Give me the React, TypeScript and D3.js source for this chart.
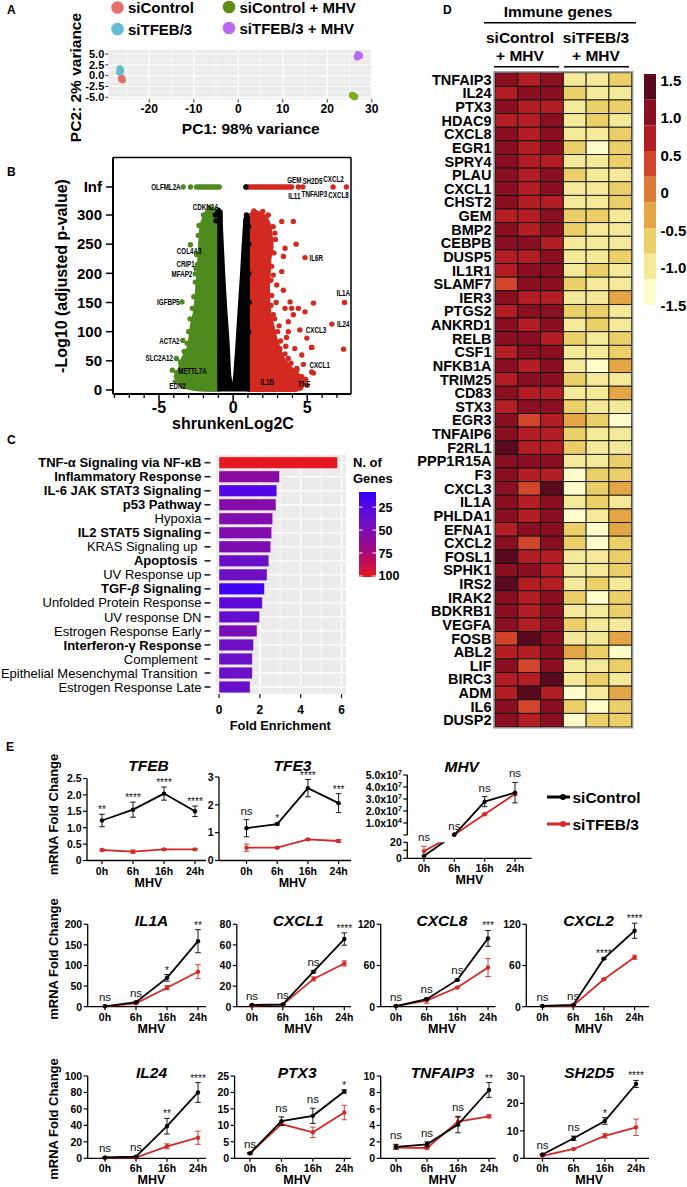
import React from 'react';
import * as d3 from 'd3';

const FF = "'Liberation Sans', Arial, Helvetica, sans-serif";
const RED = '#d42a27';

// ================= Panel A : PCA =================
const pcaGroups = ['siControl', 'siTFEB/3', 'siControl + MHV', 'siTFEB/3 + MHV'];
const pcaLegendColors = ['#e2716a', '#62bcd2', '#5e8c17', '#b86af5'];
const pcaPointColors = ['#e2716a', '#62bcd2', '#7cae1a', '#b86af5'];
const pcaGroupOf = [0, 0, 0, 1, 1, 1, 2, 2, 2, 3, 3, 3];
const pcaPC1 = [-26.2, -26.0, -26.3, -26.6, -26.4, -26.7, 25.6, 26.2, 25.9, 26.9, 27.3, 26.7];
const pcaPC2 = [-0.5, -1.0, -0.8, 1.6, 1.1, 0.8, -4.5, -4.9, -4.7, 4.9, 4.6, 4.3];
const pcaXTicks = [-20, -10, 0, 10, 20, 30];
const pcaXMinor = [-25, -15, -5, 5, 15, 25];
const pcaYTicks = [5, 2.5, 0, -2.5, -5];
const pcaYMinor = [3.75, 1.25, -1.25, -3.75];

// ================= Panel B : volcano =================
const volcYTicks = [0, 50, 100, 150, 200, 250, 300];
const volcXMajor = [-5, 0, 5];
const volcXMinor = [-8, -7, -6, -4, -3, -2, -1, 1, 2, 3, 4, 6, 7];
const volcGreenDense: [number, number][] = [
  [-0.97, 0], [-0.97, 300], [-1.1, 308], [-1.45, 311], [-1.75, 306], [-1.95, 295], [-2.14, 283], [-2.2, 262],
  [-2.25, 240], [-2.3, 215], [-2.35, 197], [-2.42, 175], [-2.5, 150], [-2.6, 130], [-2.78, 111], [-2.88, 90],
  [-3.0, 72], [-3.36, 54], [-3.6, 36], [-3.72, 24], [-3.6, 12], [-3.2, 5], [-2.6, 1.5], [-2.0, 0.5],
];
const volcBlackDense: [number, number][] = [
  [-0.97, 0], [-0.97, 300], [-1.12, 306], [-0.95, 310], [-0.8, 306], [-0.79, 283], [-0.71, 240], [-0.63, 197],
  [-0.5, 140], [-0.34, 83], [-0.23, 26], [-0.11, 7], [0, 1.5], [0.03, 7], [0.11, 26], [0.27, 83], [0.41, 140],
  [0.56, 197], [0.68, 250], [0.79, 294], [0.9, 298], [1.03, 296], [1.03, 0],
];
const volcRedDense: [number, number][] = [
  [1.03, 0], [1.03, 296], [1.25, 302], [1.55, 305], [1.9, 301], [2.2, 296], [2.45, 282], [2.55, 262], [2.6, 245],
  [2.45, 225], [2.4, 200], [2.35, 175], [2.38, 150], [2.45, 130], [2.65, 110], [2.85, 88], [3.1, 70], [3.35, 54],
  [3.7, 42], [4.1, 32], [4.45, 24], [4.7, 12], [4.6, 3], [4.2, 0],
];
const volcGreenPts: [number, number][] = [
  [-2.88, 249], [-2.41, 215], [-2.55, 199], [-3.45, 151], [-3.39, 85], [-3.83, 54], [-4.1, 34], [-3.72, 19], [-3.27, 11],
  [-2.03, 246], [-1.92, 220], [-2.25, 171], [-2.14, 129], [-2.48, 111], [-2.7, 97], [-2.25, 69], [-2.82, 49],
  [-3.49, 43], [-3.16, 31], [-2.7, 26], [-3.83, 23], [-2.3, 282], [-2.35, 265], [-2.45, 232], [-2.5, 208],
  [-2.55, 185], [-2.65, 160], [-2.75, 140], [-2.9, 122], [-3.0, 100], [-3.1, 80], [-3.3, 66], [-3.55, 48],
  [-3.8, 30], [-3.9, 14], [-3.4, 8], [-1.6, 312], [-2.0, 300], [-2.6, 120], [-2.95, 60], [-3.45, 38],
];
const volcRedPts: [number, number][] = [
  [1.81, 297], [2.37, 300], [3.28, 289], [4.06, 289], [2.82, 269], [4.25, 250], [3.5, 243], [3.39, 229], [4.85, 227],
  [3.28, 203], [2.71, 197], [2.94, 180], [5.42, 149], [3.95, 140], [3.5, 140], [4.4, 140], [4.85, 134], [4.06, 129],
  [2.71, 129], [3.72, 117], [6.66, 113], [7.51, 150], [7.45, 70], [3.72, 100], [4.97, 89], [5.31, 73], [2.71, 97],
  [4.74, 44], [5.42, 29], [5.3, 31], [4.63, 23], [4.29, 37], [3.39, 49], [3.72, 54], [4.63, 60], [3.16, 71],
  [3.39, 171], [3.84, 151], [4.5, 103], [4.16, 20], [5.28, 73], [4.16, 71], [3.55, 75], [2.7, 280], [2.85, 258],
  [2.75, 235], [2.6, 212], [2.55, 188], [2.6, 162], [2.55, 145], [2.8, 122], [3.0, 100], [3.2, 84], [3.5, 62],
  [3.9, 46], [4.3, 34], [4.9, 18], [5.0, 8], [2.0, 306], [1.4, 307], [2.9, 150], [3.1, 110], [3.6, 90],
];
const volcBlackPts: [number, number][] = [
  [-1.2, 300], [-1.15, 290], [0.9, 300], [0.95, 290], [1.05, 280], [1.06, 250], [1.05, 200], [1.08, 150], [1.05, 100],
];
const volcInfGreenSeg = [-2.47, -0.94];
const volcInfRedSeg = [0.9, 3.95];
const volcInfGreenPts = [-3.37, -2.87];
const volcInfBlackPts = [0.86];
const volcInfRedPts = [4.4, 4.7, 6.74, 7.64];
type VLabel = { t: string; x: number; p: number | null; a: 'start' | 'middle' | 'end'; dy?: number };
const volcLabels: VLabel[] = [
  { t: 'OLFML2A', x: -3.54, p: null, a: 'end', dy: 0 },
  { t: 'GEM', x: 4.13, p: null, a: 'middle', dy: -7 },
  { t: 'SH2D5', x: 5.35, p: null, a: 'middle', dy: -6 },
  { t: 'CXCL2', x: 6.77, p: null, a: 'middle', dy: -8 },
  { t: 'IL11', x: 4.13, p: null, a: 'middle', dy: 8.7 },
  { t: 'TNFAIP3', x: 5.48, p: null, a: 'middle', dy: 6.7 },
  { t: 'CXCL8', x: 7.11, p: null, a: 'middle', dy: 7.7 },
  { t: 'CDKN2A', x: -1.85, p: 314, a: 'middle' },
  { t: 'COL4A3', x: -2.14, p: 238, a: 'end' },
  { t: 'CRIP1', x: -2.59, p: 215.5, a: 'end' },
  { t: 'MFAP2', x: -2.75, p: 199, a: 'end' },
  { t: 'IGFBP5', x: -3.61, p: 151, a: 'end' },
  { t: 'ACTA2', x: -3.61, p: 84.5, a: 'end' },
  { t: 'SLC2A12', x: -4.06, p: 54.3, a: 'end' },
  { t: 'METTL7A', x: -3.72, p: 31.4, a: 'start' },
  { t: 'EDN2', x: -3.74, p: 5.7, a: 'middle' },
  { t: 'IL6R', x: 5.15, p: 226.8, a: 'start' },
  { t: 'IL1A', x: 7.43, p: 165.8, a: 'middle' },
  { t: 'IL24', x: 7.0, p: 113, a: 'start' },
  { t: 'CXCL3', x: 4.9, p: 101.7, a: 'start' },
  { t: 'CXCL1', x: 5.15, p: 42.9, a: 'start' },
  { t: 'IL1B', x: 2.3, p: 13, a: 'middle' },
  { t: 'TNF', x: 4.79, p: 10.3, a: 'middle' },
];

// ================= Panel C : enrichment =================
const hallmarkNames = [
  'TNF-α Signaling via NF-κB', 'Inflammatory Response', 'IL-6 JAK STAT3 Signaling', 'p53 Pathway', 'Hypoxia',
  'IL2 STAT5 Signaling', 'KRAS Signaling up', 'Apoptosis', 'UV Response up', 'TGF-β Signaling',
  'Unfolded Protein Response', 'UV response DN', 'Estrogen Response Early', 'Interferon-γ Response', 'Complement',
  'Epithelial Mesenchymal Transition', 'Estrogen Response Late',
];
const hallmarkFold = [5.8, 2.96, 2.83, 2.79, 2.63, 2.58, 2.53, 2.44, 2.35, 2.22, 2.12, 1.99, 1.86, 1.69, 1.63, 1.63, 1.52];
const hallmarkGenes = [100, 58, 22, 55, 52, 52, 50, 40, 42, 14, 30, 36, 48, 42, 40, 40, 38];
const hallmarkBold = [1, 1, 1, 1, 0, 1, 0, 1, 0, 1, 0, 0, 0, 1, 0, 0, 0];
const hallmarkPad = [0, 0, 0, 0, 0, 0, 1, 1, 0, 0, 0, 0, 0, 0, 1, 1, 0];
const foldTicks = [0, 2, 4, 6];
const foldMinor = [1, 3, 5];
const geneLegendTicks = [25, 50, 75, 100];

// ================= Panel D : heatmap =================
const heatGenes = [
  'TNFAIP3', 'IL24', 'PTX3', 'HDAC9', 'CXCL8', 'EGR1', 'SPRY4', 'PLAU', 'CXCL1', 'CHST2', 'GEM', 'BMP2', 'CEBPB',
  'DUSP5', 'IL1R1', 'SLAMF7', 'IER3', 'PTGS2', 'ANKRD1', 'RELB', 'CSF1', 'NFKB1A', 'TRIM25', 'CD83', 'STX3', 'EGR3',
  'TNFAIP6', 'F2RL1', 'PPP1R15A', 'F3', 'CXCL3', 'IL1A', 'PHLDA1', 'EFNA1', 'CXCL2', 'FOSL1', 'SPHK1', 'IRS2', 'IRAK2',
  'BDKRB1', 'VEGFA', 'FOSB', 'ABL2', 'LIF', 'BIRC3', 'ADM', 'IL6', 'DUSP2',
];
const heatValues: number[][] = [
  [1.0, 0.7, 1.0, -1.0, -1.0, -0.7], [0.7, 1.0, 1.0, -0.7, -1.0, -1.0], [1.0, 0.7, 0.7, -1.0, -0.7, -0.7],
  [0.7, 0.7, 1.0, -1.0, -0.7, -1.0], [1.0, 0.7, 1.0, -1.0, -1.0, -0.7], [1.0, 0.7, 1.0, -0.7, -1.4, -0.7],
  [1.0, 0.7, 0.7, -1.0, -1.0, -0.7], [1.0, 0.7, 1.0, -0.7, -1.0, -1.0], [1.0, 0.7, 1.0, -1.0, -1.0, -0.7],
  [1.0, 0.7, 0.7, -1.0, -1.0, -0.7], [0.7, 0.7, 1.0, -0.7, -0.7, -1.0], [1.0, 0.7, 1.0, -0.7, -1.0, -1.0],
  [1.0, 1.0, 0.7, -1.0, -1.0, -1.0], [0.7, 0.7, 1.0, -1.0, -1.0, -0.7], [0.7, 1.0, 1.0, -1.0, -0.7, -1.0],
  [0.35, 1.0, 1.0, -0.7, -1.0, -1.0], [1.0, 0.7, 0.7, -1.0, -1.0, -0.35], [0.7, 1.0, 1.0, -0.7, -0.7, -1.0],
  [1.0, 0.7, 1.0, -1.0, -0.7, -1.0], [1.0, 1.0, 0.7, -0.7, -1.0, -0.7], [0.7, 1.0, 1.0, -1.0, -1.0, -0.7],
  [1.0, 0.7, 1.0, -1.0, -1.4, -0.35], [0.7, 1.0, 1.0, -0.7, -1.0, -1.0], [1.0, 0.7, 0.7, -1.0, -1.0, -0.35],
  [0.7, 1.0, 1.0, -0.7, -1.0, -1.0], [1.0, 0.35, 0.7, -0.35, -0.7, -1.4], [1.0, 0.7, 0.7, -0.7, -1.0, -1.0],
  [1.35, 0.7, 0.7, -0.7, -1.0, -1.0], [1.0, 1.0, 1.0, -1.0, -1.0, -0.7], [1.0, 0.7, 0.7, -1.4, -0.7, -0.7],
  [1.0, 0.35, 1.35, -1.4, -0.7, -0.35], [1.0, 0.7, 1.0, -1.0, -0.7, -1.0], [1.0, 0.7, 1.0, -1.4, -1.0, -0.35],
  [0.7, 1.0, 1.0, -0.7, -1.4, -0.35], [1.0, 0.35, 1.0, -0.7, -1.4, -0.7], [1.35, 0.7, 0.7, -1.0, -1.0, -0.7],
  [1.0, 1.0, 0.7, -1.0, -1.0, -0.7], [1.35, 0.7, 0.7, -1.0, -0.7, -1.0], [1.0, 0.7, 1.0, -0.7, -1.4, -0.7],
  [1.0, 0.7, 1.0, -1.0, -1.0, -0.7], [1.0, 0.7, 1.0, -0.7, -1.0, -1.0], [0.35, 1.35, 1.0, -1.0, -1.0, -0.35],
  [0.7, 0.7, 1.0, -0.35, -0.7, -1.4], [1.0, 0.35, 1.0, -1.0, -1.0, -0.7], [0.7, 0.7, 1.35, -1.0, -0.7, -1.0],
  [0.7, 1.35, 0.7, -1.4, -1.0, -0.35], [1.0, 0.35, 1.0, -0.7, -1.4, -0.7], [1.0, 0.7, 1.0, -1.4, -0.7, -0.7],
];
const heatColors = ['#fdfcca', '#f3e998', '#ebd06a', '#e3a545', '#dc7b36', '#d0452b', '#b21e24', '#8a1021', '#5a0a1f'];
const heatLegendTicks = [1.5, 1.0, 0.5, 0, -0.5, -1.0, -1.5];

// ================= Panel E : qPCR =================
const timeLabels = ['0h', '6h', '16h', '24h'];
const tfebCtrl = [1.22, 1.55, 2.04, 1.5];
const tfebCtrlSd = [0.19, 0.23, 0.2, 0.16];
const tfebKd = [0.32, 0.27, 0.34, 0.34];
const tfebKdSd = [0.03, 0.05, 0.02, 0.02];
const tfebSig = ['**', '****', '****', '****'];
const tfe3Ctrl = [1.16, 1.31, 2.6, 2.06];
const tfe3CtrlSd = [0.31, 0.03, 0.31, 0.34];
const tfe3Kd = [0.46, 0.46, 0.76, 0.7];
const tfe3KdSd = [0.13, 0.02, 0.02, 0.05];
const tfe3Sig = ['ns', '*', '****', '***'];
const mhvCtrl = [3, 2e5, 2.78e7, 3.53e7];
const mhvCtrlSd = [0, 0, 0.42e7, 0.85e7];
const mhvKd = [9, 2e5, 1.73e7, 3.42e7];
const mhvKdSd = [6, 0, 0.05e7, 0.1e7];
const mhvSig = ['ns', 'ns', 'ns', 'ns'];
const mhvUpperTicks = [1e7, 2e7, 3e7, 4e7, 5e7];
const mhvUpperLabels = ['1.0x10|4', '2.0x10|7', '3.0x10|7', '4.0x10|7', '5.0x10|7'];
const mhvLowerTicks = [0, 10, 20];
const il1aCtrl = [1, 11, 70, 159];
const il1aCtrlSd = [0.5, 1, 8, 28];
const il1aKd = [1, 8, 46, 85];
const il1aKdSd = [0.5, 1, 5, 17];
const il1aSig = ['ns', 'ns', '*', '**'];
const cxcl1Ctrl = [1.6, 2.3, 34, 65.7];
const cxcl1CtrlSd = [0.3, 0.3, 1, 6];
const cxcl1Kd = [1, 2, 27, 42];
const cxcl1KdSd = [0.3, 0.3, 2, 2.5];
const cxcl1Sig = ['ns', 'ns', 'ns', '****'];
const cxcl8Ctrl = [1, 11, 39, 99.5];
const cxcl8CtrlSd = [0.3, 1, 1, 11.5];
const cxcl8Kd = [1, 9, 28, 57];
const cxcl8KdSd = [0.3, 4, 1, 13];
const cxcl8Sig = ['ns', 'ns', 'ns', '***'];
const cxcl2Ctrl = [1, 2.5, 70, 110.6];
const cxcl2CtrlSd = [0.3, 0.5, 1, 11];
const cxcl2Kd = [1, 1.5, 40, 72];
const cxcl2KdSd = [0.3, 0.3, 1, 3];
const cxcl2Sig = ['ns', 'ns', '****', '****'];
const il24Ctrl = [1, 2, 39, 80];
const il24CtrlSd = [0.3, 0.5, 9.5, 12];
const il24Kd = [0.5, 1, 14.6, 25];
const il24KdSd = [0.2, 0.3, 3, 8];
const il24Sig = ['ns', 'ns', '**', '****'];
const ptx3Ctrl = [1.5, 11.3, 12.9, 20.3];
const ptx3CtrlSd = [0.2, 1.3, 2.3, 0.5];
const ptx3Kd = [1.5, 10.4, 7.9, 13.9];
const ptx3KdSd = [0.2, 0.4, 1.6, 2.2];
const ptx3Sig = ['ns', 'ns', 'ns', '*'];
const tnfaip3Ctrl = [1.4, 1.7, 4.1, 8.3];
const tnfaip3CtrlSd = [0.3, 0.3, 1, 0.9];
const tnfaip3Kd = [1.3, 1.25, 4.45, 5.1];
const tnfaip3KdSd = [0.1, 0.1, 0.5, 0.2];
const tnfaip3Sig = ['ns', 'ns', 'ns', '**'];
const sh2d5Ctrl = [1.4, 7.3, 13.6, 27.1];
const sh2d5CtrlSd = [0.2, 0.8, 1.2, 1.3];
const sh2d5Kd = [0.9, 3.4, 8.2, 11.3];
const sh2d5KdSd = [0.1, 0.2, 0.8, 3];
const sh2d5Sig = ['ns', 'ns', '*', '****'];
const eLegendNames = ['siControl', 'siTFEB/3'];

// ---------------------------------------------------------------
function PanelLabel({ x, y, t }: { x: number; y: number; t: string }) {
  return <text x={x} y={y} fontSize={12} fontWeight="bold">{t}</text>;
}

function PanelA() {
  const x = d3.scaleLinear().domain([-29.2, 30]).range([108.3, 371.8]);
  const y = d3.scaleLinear().domain([-5, 5]).range([97.3, 54]);
  const top = 50, bot = 99.3, left = 108.3, right = 371.8;
  const legX = [117.5, 117.5, 229, 229];
  const legY = [7.5, 29, 7, 28];
  return (
    <g>
      <PanelLabel x={7} y={14} t="A" />
      {pcaGroups.map((g, i) => (
        <g key={g}>
          <circle cx={legX[i]} cy={legY[i]} r={6.3} fill={pcaLegendColors[i]} />
          <text x={legX[i] + 10.5} y={legY[i] + 5.5} fontSize={15} fontWeight="bold">{g}</text>
        </g>
      ))}
      <rect x={left} y={top} width={right - left} height={bot - top} fill="#ebebeb" />
      {pcaXMinor.map(v => <line key={'xm' + v} x1={x(v)} x2={x(v)} y1={top} y2={bot} stroke="#fff" strokeWidth={0.6} />)}
      {pcaYMinor.map(v => <line key={'ym' + v} x1={left} x2={right} y1={y(v)} y2={y(v)} stroke="#fff" strokeWidth={0.6} />)}
      {pcaXTicks.map(v => <line key={'xg' + v} x1={x(v)} x2={x(v)} y1={top} y2={bot} stroke="#fff" strokeWidth={1.2} />)}
      {pcaYTicks.map(v => <line key={'yg' + v} x1={left} x2={right} y1={y(v)} y2={y(v)} stroke="#fff" strokeWidth={1.2} />)}
      {pcaPC1.map((v, i) => (
        <circle key={'p' + i} cx={x(v)} cy={y(pcaPC2[i])} r={3.4} fill={pcaPointColors[pcaGroupOf[i]]} />
      ))}
      {pcaYTicks.map(v => (
        <g key={'yt' + v}>
          <line x1={left - 3} x2={left} y1={y(v)} y2={y(v)} stroke="#333" strokeWidth={1} />
          <text x={left - 4} y={y(v) + 3.8} textAnchor="end" fontSize={11} fontWeight="bold">{v.toFixed(1)}</text>
        </g>
      ))}
      {pcaXTicks.map(v => (
        <g key={'xt' + v}>
          <line x1={x(v)} x2={x(v)} y1={bot} y2={bot + 3} stroke="#333" strokeWidth={1} />
          <text x={x(v)} y={113} textAnchor="middle" fontSize={12} fontWeight="bold">{v}</text>
        </g>
      ))}
      <text x={250.8} y={133.5} textAnchor="middle" fontSize={15.5} fontWeight="bold">PC1: 98% variance</text>
      <text transform="translate(80.5,77.5) rotate(-90)" textAnchor="middle" fontSize={15.5} fontWeight="bold">PC2: 2% variance</text>
    </g>
  );
}

function PanelB() {
  const x = d3.scaleLinear().domain([-8.1, 7.95]).range([113, 351]);
  const y = d3.scaleLinear().domain([0, 300]).range([390, 215]);
  const infY = 187;
  const left = 113, right = 351, top = 157.5, bot = 394;
  const poly = d3.line<[number, number]>().x(d => x(d[0])).y(d => y(d[1])).curve(d3.curveLinearClosed);
  const R = 2.7;
  const GREEN = '#4e8a1e', VRED = '#d22a20';
  return (
    <g>
      <PanelLabel x={7} y={176} t="B" />
      <defs>
        <clipPath id="volcClip"><rect x={left} y={top} width={right - left} height={bot - top} /></clipPath>
      </defs>
      <g clipPath="url(#volcClip)">
        <path d={poly(volcGreenDense)!} fill={GREEN} stroke={GREEN} strokeWidth={4} strokeLinejoin="round" />
        <path d={poly(volcRedDense)!} fill={VRED} stroke={VRED} strokeWidth={4} strokeLinejoin="round" />
        <path d={poly(volcBlackDense)!} fill="#000" stroke="#000" strokeWidth={3} strokeLinejoin="round" />
        {volcGreenPts.map((d, i) => <circle key={'g' + i} cx={x(d[0])} cy={y(d[1])} r={R} fill={GREEN} />)}
        {volcRedPts.map((d, i) => <circle key={'r' + i} cx={x(d[0])} cy={y(d[1])} r={R} fill={VRED} />)}
        {volcBlackPts.map((d, i) => <circle key={'b' + i} cx={x(d[0])} cy={y(d[1])} r={R} fill="#000" />)}
        <line x1={x(volcInfGreenSeg[0])} x2={x(volcInfGreenSeg[1])} y1={infY} y2={infY} stroke={GREEN} strokeWidth={5.4} strokeLinecap="round" />
        <line x1={x(volcInfRedSeg[0])} x2={x(volcInfRedSeg[1])} y1={infY} y2={infY} stroke={VRED} strokeWidth={5.4} strokeLinecap="round" />
        {volcInfGreenPts.map((v, i) => <circle key={'ig' + i} cx={x(v)} cy={infY} r={R} fill={GREEN} />)}
        {volcInfRedPts.map((v, i) => <circle key={'ir' + i} cx={x(v)} cy={infY} r={R} fill={VRED} />)}
        {volcInfBlackPts.map((v, i) => <circle key={'ib' + i} cx={x(v)} cy={infY} r={R} fill="#000" />)}
        {volcLabels.map(l => (
          <g key={l.t} transform={`translate(${x(l.x)},${(l.p === null ? infY + (l.dy || 0) : y(l.p)) + 2.8}) scale(0.76,1)`}>
            <text x={0} y={0} textAnchor={l.a} fontSize={8.2} fontWeight="bold">{l.t}</text>
          </g>
        ))}
      </g>
      <line x1={left} x2={right} y1={top} y2={top} stroke="#000" strokeWidth={1.5} />
      <line x1={right} x2={right} y1={top} y2={bot} stroke="#000" strokeWidth={1.5} />
      <line x1={left} x2={left} y1={top} y2={bot} stroke="#000" strokeWidth={2} />
      <line x1={left} x2={right} y1={bot} y2={bot} stroke="#000" strokeWidth={2} />
      {volcYTicks.map(v => (
        <g key={'vy' + v}>
          <line x1={106} x2={left} y1={y(v)} y2={y(v)} stroke="#000" strokeWidth={1.5} />
          <text x={102} y={y(v) + 5.3} textAnchor="end" fontSize={15} fontWeight="bold">{v}</text>
        </g>
      ))}
      <line x1={106} x2={left} y1={infY} y2={infY} stroke="#000" strokeWidth={1.5} />
      <text x={102} y={infY + 5.3} textAnchor="end" fontSize={15} fontWeight="bold">Inf</text>
      {volcXMinor.map(v => <line key={'vm' + v} x1={x(v)} x2={x(v)} y1={bot} y2={bot + 4} stroke="#000" strokeWidth={1.3} />)}
      {volcXMajor.map(v => (
        <g key={'vx' + v}>
          <line x1={x(v)} x2={x(v)} y1={bot} y2={bot + 7} stroke="#000" strokeWidth={1.5} />
          <text x={x(v)} y={413} textAnchor="middle" fontSize={16} fontWeight="bold">{v}</text>
        </g>
      ))}
      <text x={233} y={428.5} textAnchor="middle" fontSize={16} fontWeight="bold">shrunkenLog2C</text>
      <text transform="translate(67,276) rotate(-90)" textAnchor="middle" fontSize={16} fontWeight="bold">-Log10 (adjusted p-value)</text>
    </g>
  );
}

function geneColor(n: number) {
  return d3.scaleLinear<string>().domain([8.5, 40, 70, 101]).range(['#3000ff', '#6a10c8', '#9a0a88', '#e41a1c']).interpolate(d3.interpolateLab)(n);
}

function HallmarkLabel({ i, x, y }: { i: number; x: number; y: number }) {
  const name = hallmarkNames[i];
  const bold = hallmarkBold[i] === 1;
  if (name.startsWith('TGF-')) {
    return (
      <text x={x} y={y} textAnchor="end" fontSize={13} fontWeight="bold">
        <tspan>TGF-</tspan><tspan fontStyle="italic">β</tspan><tspan> Signaling</tspan>
      </text>
    );
  }
  return <text x={x} y={y} textAnchor="end" fontSize={13} fontWeight={bold ? 'bold' : 'normal'}>{name}</text>;
}

function PanelC() {
  const x = d3.scaleLinear().domain([0, 6]).range([219, 341.5]);
  const y = d3.scalePoint<string>().domain(hallmarkNames).range([462.7, 687]);
  const top = 455, bot = 694, pl = 216, pr = 346;
  const bh = 11.6;
  const leg = d3.scaleLinear().domain([8.5, 101.1]).range([492, 577]);
  const stops = d3.range(0, 1.0001, 0.1).map(t => ({ t, c: geneColor(8.5 + t * (101.1 - 8.5)) }));
  return (
    <g>
      <PanelLabel x={7} y={444} t="C" />
      <rect x={pl} y={top} width={pr - pl} height={bot - top} fill="#ebebeb" />
      {foldMinor.map(v => <line key={'cm' + v} x1={x(v)} x2={x(v)} y1={top} y2={bot} stroke="#fff" strokeWidth={0.7} />)}
      {foldTicks.map(v => <line key={'cg' + v} x1={x(v)} x2={x(v)} y1={top} y2={bot} stroke="#fff" strokeWidth={1.3} />)}
      {hallmarkNames.map(n => <line key={'ch' + n} x1={pl} x2={pr} y1={y(n)} y2={y(n)} stroke="#fff" strokeWidth={1.3} />)}
      {hallmarkNames.map((n, i) => (
        <rect key={'cb' + n} x={x(0)} y={y(n)! - bh / 2} width={x(hallmarkFold[i]) - x(0)} height={bh}
          fill={geneColor(hallmarkGenes[i])} stroke="rgba(255,255,255,0.45)" strokeWidth={0.8} />
      ))}
      {hallmarkNames.map((n, i) => (
        <g key={'cl' + n}>
          <line x1={204.5} x2={210.5} y1={y(n)} y2={y(n)} stroke="#222" strokeWidth={1.6} />
          <HallmarkLabel i={i} x={hallmarkPad[i] ? 197.5 : 201.5} y={y(n)! + 4.6} />
        </g>
      ))}
      {foldTicks.map(v => (
        <g key={'cx' + v}>
          <line x1={x(v)} x2={x(v)} y1={bot} y2={bot + 4} stroke="#222" strokeWidth={1.3} />
          <text x={x(v)} y={714} textAnchor="middle" fontSize={12} fontWeight="bold">{v}</text>
        </g>
      ))}
      <text x={x(3)} y={729.5} textAnchor="middle" fontSize={12.8} fontWeight="bold">Fold Enrichment</text>
      <text x={353} y={466.5} fontSize={13} fontWeight="bold">N. of</text>
      <text x={353} y={483.3} fontSize={13} fontWeight="bold">Genes</text>
      <defs>
        <linearGradient id="geneGrad" x1="0" y1="0" x2="0" y2="1">
          {stops.map(s => <stop key={s.t} offset={s.t} stopColor={s.c} />)}
        </linearGradient>
      </defs>
      <rect x={359} y={leg(8.5)} width={17} height={leg(101.1) - leg(8.5)} fill="url(#geneGrad)" />
      {geneLegendTicks.map(v => (
        <g key={'gl' + v}>
          <line x1={359} x2={362.5} y1={leg(v)} y2={leg(v)} stroke="#fff" strokeWidth={1} />
          <line x1={372.5} x2={376} y1={leg(v)} y2={leg(v)} stroke="#fff" strokeWidth={1} />
          <text x={378.5} y={leg(v) + 4.5} fontSize={12.5} fontWeight="bold">{v}</text>
        </g>
      ))}
    </g>
  );
}

function PanelD() {
  const xs = d3.scaleBand<number>().domain(d3.range(6)).range([495, 631.7]);
  const ys = d3.scaleBand<string>().domain(heatGenes).range([72.7, 727]);
  const color = d3.scaleQuantize<string>().domain([-1.5, 1.5]).range(heatColors);
  const cb = d3.scaleLinear().domain([-1.5, 1.5]).range([305, 74]);
  const cbLab = d3.scaleLinear().domain([-1.5, 1.5]).range([305, 80]);
  const bands = d3.range(9).map(k => -1.5 + (k * 3) / 9);
  return (
    <g>
      <text x={443} y={13.5} fontSize={12} fontWeight="bold">D</text>
      <text x={558} y={17} textAnchor="middle" fontSize={15.5} fontWeight="bold">Immune genes</text>
      <line x1={484} x2={636} y1={22.7} y2={22.7} stroke="#000" strokeWidth={1.5} />
      <text x={520} y={43} textAnchor="middle" fontSize={15.5} fontWeight="bold">siControl</text>
      <text x={520} y={60.5} textAnchor="middle" fontSize={15.5} fontWeight="bold">+ MHV</text>
      <text x={596} y={43} textAnchor="middle" fontSize={15.5} fontWeight="bold">siTFEB/3</text>
      <text x={596} y={60.5} textAnchor="middle" fontSize={15.5} fontWeight="bold">+ MHV</text>
      <line x1={494} x2={559} y1={66.7} y2={66.7} stroke="#000" strokeWidth={1.5} />
      <line x1={564} x2={629} y1={66.7} y2={66.7} stroke="#000" strokeWidth={1.5} />
      {heatGenes.map((g, r) => (
        <g key={g}>
          {heatValues[r].map((v, c) => (
            <rect key={c} x={xs(c)} y={ys(g)} width={xs.bandwidth()} height={ys.bandwidth()} fill={color(v)} stroke="#111" strokeWidth={0.9} />
          ))}
          <text x={491.5} y={ys(g)! + ys.bandwidth() / 2 + 5.2} textAnchor="end" fontSize={14.5} fontWeight="bold">{g}</text>
        </g>
      ))}
      <rect x={494} y={71.9} width={138.6} height={655.9} fill="none" stroke="#8d8d8d" strokeWidth={1.4} />
      {bands.map((b, k) => (
        <rect key={'cb' + k} x={644} y={cb(b + 1 / 3)} width={12} height={cb(b) - cb(b + 1 / 3)} fill={heatColors[k]} />
      ))}
      {heatLegendTicks.map(v => (
        <text key={'hl' + v} x={660.5} y={cbLab(v) + 5.5} fontSize={15} fontWeight="bold">{v === 0 ? '0' : v.toFixed(1)}</text>
      ))}
    </g>
  );
}

type EPanelCfg = {
  title: string; ax: number; c0: number; c3: number; end: number; y0: number; yTop: number; titleY: number;
  max: number; ticks: number[]; fmt: (v: number) => string; ctrl: number[]; ctrlSd: number[]; kd: number[]; kdSd: number[]; sig: string[];
};
const intFmt = (v: number) => String(v);
const ePanels: EPanelCfg[] = [
  { title: 'TFEB', ax: 87, c0: 102, c3: 195, end: 206, y0: 860.5, yTop: 778.5, titleY: 771, max: 2.5, ticks: [0, 0.5, 1, 1.5, 2, 2.5], fmt: v => (v === 0 ? '0' : v.toFixed(1)), ctrl: tfebCtrl, ctrlSd: tfebCtrlSd, kd: tfebKd, kdSd: tfebKdSd, sig: tfebSig },
  { title: 'TFE3', ax: 219, c0: 246.5, c3: 338.6, end: 351, y0: 860.5, yTop: 777, titleY: 771, max: 3, ticks: [0, 1, 2, 3], fmt: intFmt, ctrl: tfe3Ctrl, ctrlSd: tfe3CtrlSd, kd: tfe3Kd, kdSd: tfe3KdSd, sig: tfe3Sig },
  { title: 'IL1A', ax: 87.7, c0: 105, c3: 198, end: 206, y0: 1006.7, yTop: 924.3, titleY: 926, max: 200, ticks: [0, 50, 100, 150, 200], fmt: intFmt, ctrl: il1aCtrl, ctrlSd: il1aCtrlSd, kd: il1aKd, kdSd: il1aKdSd, sig: il1aSig },
  { title: 'CXCL1', ax: 236.8, c0: 252, c3: 344.3, end: 351, y0: 1006.7, yTop: 924.3, titleY: 926, max: 80, ticks: [0, 20, 40, 60, 80], fmt: intFmt, ctrl: cxcl1Ctrl, ctrlSd: cxcl1CtrlSd, kd: cxcl1Kd, kdSd: cxcl1KdSd, sig: cxcl1Sig },
  { title: 'CXCL8', ax: 380.7, c0: 396, c3: 488, end: 495.6, y0: 1006.7, yTop: 924.3, titleY: 926, max: 120, ticks: [0, 60, 120], fmt: intFmt, ctrl: cxcl8Ctrl, ctrlSd: cxcl8CtrlSd, kd: cxcl8Kd, kdSd: cxcl8KdSd, sig: cxcl8Sig },
  { title: 'CXCL2', ax: 526.3, c0: 542.5, c3: 634.6, end: 649, y0: 1006.7, yTop: 924.3, titleY: 926, max: 120, ticks: [0, 60, 120], fmt: intFmt, ctrl: cxcl2Ctrl, ctrlSd: cxcl2CtrlSd, kd: cxcl2Kd, kdSd: cxcl2KdSd, sig: cxcl2Sig },
  { title: 'IL24', ax: 87.7, c0: 105, c3: 198, end: 206, y0: 1158.3, yTop: 1076, titleY: 1078, max: 100, ticks: [0, 20, 40, 60, 80, 100], fmt: intFmt, ctrl: il24Ctrl, ctrlSd: il24CtrlSd, kd: il24Kd, kdSd: il24KdSd, sig: il24Sig },
  { title: 'PTX3', ax: 234.6, c0: 250, c3: 344.3, end: 351, y0: 1158.3, yTop: 1076, titleY: 1078, max: 25, ticks: [0, 5, 10, 15, 20, 25], fmt: intFmt, ctrl: ptx3Ctrl, ctrlSd: ptx3CtrlSd, kd: ptx3Kd, kdSd: ptx3KdSd, sig: ptx3Sig },
  { title: 'TNFAIP3', ax: 380.7, c0: 396, c3: 489, end: 495.6, y0: 1158.3, yTop: 1076, titleY: 1078, max: 10, ticks: [0, 2, 4, 6, 8, 10], fmt: intFmt, ctrl: tnfaip3Ctrl, ctrlSd: tnfaip3CtrlSd, kd: tnfaip3Kd, kdSd: tnfaip3KdSd, sig: tnfaip3Sig },
  { title: 'SH2D5', ax: 524, c0: 542.5, c3: 636, end: 649, y0: 1158.3, yTop: 1076, titleY: 1078, max: 30, ticks: [0, 10, 20, 30], fmt: intFmt, ctrl: sh2d5Ctrl, ctrlSd: sh2d5CtrlSd, kd: sh2d5Kd, kdSd: sh2d5KdSd, sig: sh2d5Sig },
];

function Series({ xs, ys, v, sd, c }: { xs: (i: number) => number; ys: (v: number, i: number) => number; v: number[]; sd: number[]; c: string }) {
  const line = d3.line<number>().x((_, i) => xs(i)).y((d, i) => ys(d, i));
  return (
    <g>
      <path d={line(v)!} fill="none" stroke={c} strokeWidth={1.8} />
      {v.map((d, i) => sd[i] > 0 ? (
        <g key={'e' + i}>
          <line x1={xs(i)} x2={xs(i)} y1={ys(d - sd[i], i)} y2={ys(d + sd[i], i)} stroke={c} strokeWidth={0.9} />
          <line x1={xs(i) - 2.8} x2={xs(i) + 2.8} y1={ys(d + sd[i], i)} y2={ys(d + sd[i], i)} stroke={c} strokeWidth={0.9} />
          <line x1={xs(i) - 2.8} x2={xs(i) + 2.8} y1={ys(d - sd[i], i)} y2={ys(d - sd[i], i)} stroke={c} strokeWidth={0.9} />
        </g>
      ) : null)}
      {v.map((d, i) => <circle key={'m' + i} cx={xs(i)} cy={ys(d, i)} r={2.2} fill={c} />)}
    </g>
  );
}

function SigLabel({ x, y, s }: { x: number; y: number; s: string }) {
  const isNs = s === 'ns';
  return <text x={x} y={isNs ? y - 3 : y + 1} textAnchor="middle" fontSize={isNs ? 11.5 : 10} fill="#111">{s}</text>;
}

function EAxesX({ ax, end, y0, xs }: { ax: number; end: number; y0: number; xs: d3.ScalePoint<string> }) {
  return (
    <g>
      <line x1={ax} x2={end} y1={y0} y2={y0} stroke="#000" strokeWidth={1.3} />
      {timeLabels.map(t => (
        <g key={t}>
          <line x1={xs(t)} x2={xs(t)} y1={y0} y2={y0 + 3.5} stroke="#000" strokeWidth={1.2} />
          <text x={xs(t)} y={y0 + 14} textAnchor="middle" fontSize={10.5} fontWeight="bold">{t}</text>
        </g>
      ))}
      <text x={((xs(timeLabels[0]) as number) + (xs(timeLabels[3]) as number)) / 2} y={y0 + 26} textAnchor="middle" fontSize={12.5} fontWeight="bold">MHV</text>
    </g>
  );
}

function EPanel({ p }: { p: EPanelCfg }) {
  const xs = d3.scalePoint<string>().domain(timeLabels).range([p.c0, p.c3]);
  const y = d3.scaleLinear().domain([0, p.max]).range([p.y0, p.yTop]);
  const xi = (i: number) => xs(timeLabels[i]) as number;
  const yi = (v: number) => y(v);
  return (
    <g>
      <text x={(p.c0 + p.c3) / 2} y={p.titleY} textAnchor="middle" fontSize={15.5} fontWeight="bold" fontStyle="italic">{p.title}</text>
      <line x1={p.ax} x2={p.ax} y1={p.y0} y2={p.yTop} stroke="#000" strokeWidth={1.3} />
      {p.ticks.map(t => (
        <g key={t}>
          <line x1={p.ax - 4} x2={p.ax} y1={y(t)} y2={y(t)} stroke="#000" strokeWidth={1.2} />
          <text x={p.ax - 5.5} y={y(t) + 3.8} textAnchor="end" fontSize={10.5} fontWeight="bold">{p.fmt(t)}</text>
        </g>
      ))}
      <EAxesX ax={p.ax} end={p.end} y0={p.y0} xs={xs} />
      <Series xs={xi} ys={yi} v={p.kd} sd={p.kdSd} c={RED} />
      <Series xs={xi} ys={yi} v={p.ctrl} sd={p.ctrlSd} c="#000" />
      {p.sig.map((s, i) => (
        <SigLabel key={i} x={xi(i)} y={Math.min(y(p.ctrl[i] + p.ctrlSd[i]), y(p.kd[i] + p.kdSd[i])) - 2} s={s} />
      ))}
    </g>
  );
}

function MhvPanel() {
  const ax = 407.3, end = 531.7, y0 = 858.3;
  const xs = d3.scalePoint<string>().domain(timeLabels).range([424, 515]);
  const yUp = d3.scaleLinear().domain([0, 5e7]).range([835, 775]);
  const yLo = d3.scaleLinear().domain([0, 20]).range([y0, 842.3]);
  const xi = (i: number) => xs(timeLabels[i]) as number;
  const yy = (v: number, i: number) => (i === 0 ? yLo(v) : yUp(v));
  return (
    <g>
      <defs>
        <clipPath id="mhvLo"><rect x={400} y={842.3} width={140} height={30} /></clipPath>
        <clipPath id="mhvUp"><rect x={400} y={760} width={140} height={75.3} /></clipPath>
      </defs>
      <text x={461.7} y={772} textAnchor="middle" fontSize={15.5} fontWeight="bold" fontStyle="italic">MHV</text>
      <line x1={ax} x2={ax} y1={yUp(0)} y2={yUp(5e7)} stroke="#000" strokeWidth={1.3} />
      <line x1={ax - 4} x2={ax} y1={yUp(0)} y2={yUp(0)} stroke="#000" strokeWidth={1.2} />
      {mhvUpperTicks.map((t, i) => {
        const [base, exp] = mhvUpperLabels[i].split('|');
        return (
          <g key={t}>
            <line x1={ax - 4} x2={ax} y1={yUp(t)} y2={yUp(t)} stroke="#000" strokeWidth={1.2} />
            <text x={ax - 5.5} y={yUp(t) + 3.8} textAnchor="end" fontSize={10.5} fontWeight="bold">
              {base}<tspan dy={-4} fontSize={7}>{exp}</tspan>
            </text>
          </g>
        );
      })}
      <line x1={ax} x2={ax} y1={yLo(0)} y2={yLo(20)} stroke="#000" strokeWidth={1.3} />
      {mhvLowerTicks.map(t => (
        <g key={'l' + t}>
          <line x1={ax - 4} x2={ax} y1={yLo(t)} y2={yLo(t)} stroke="#000" strokeWidth={1.2} />
          {t !== 10 ? <text x={ax - 5.5} y={yLo(t) + 3.8} textAnchor="end" fontSize={10.5} fontWeight="bold">{t}</text> : null}
        </g>
      ))}
      <EAxesX ax={ax} end={end} y0={y0} xs={xs} />
      <g clipPath="url(#mhvLo)">
        <Series xs={xi} ys={yy} v={mhvKd} sd={mhvKdSd} c={RED} />
        <Series xs={xi} ys={yy} v={mhvCtrl} sd={mhvCtrlSd} c="#000" />
      </g>
      <g clipPath="url(#mhvUp)">
        <Series xs={xi} ys={yy} v={mhvKd} sd={mhvKdSd} c={RED} />
        <Series xs={xi} ys={yy} v={mhvCtrl} sd={mhvCtrlSd} c="#000" />
      </g>
      <circle cx={xi(1)} cy={yy(mhvCtrl[1], 1)} r={2.2} fill="#000" />
      {mhvSig.map((s, i) => (
        <SigLabel key={i} x={xi(i)} y={Math.min(yy(mhvCtrl[i] + mhvCtrlSd[i], i), yy(mhvKd[i] + mhvKdSd[i], i)) - 2} s={s} />
      ))}
    </g>
  );
}

function PanelE() {
  const legY = [797, 824];
  const legC = ['#000', RED];
  return (
    <g>
      <PanelLabel x={6} y={751} t="E" />
      {[814.5, 959, 1119].map(cy => (
        <text key={cy} transform={`translate(58,${cy}) rotate(-90)`} textAnchor="middle" fontSize={13} fontWeight="bold">mRNA Fold Change</text>
      ))}
      {ePanels.map(p => <EPanel key={p.title} p={p} />)}
      <MhvPanel />
      {eLegendNames.map((n, i) => (
        <g key={n}>
          <line x1={547} x2={570} y1={legY[i]} y2={legY[i]} stroke={legC[i]} strokeWidth={3} />
          <circle cx={563} cy={legY[i]} r={3} fill={legC[i]} />
          <text x={572.5} y={legY[i] + 5.5} fontSize={15.5} fontWeight="bold">{n}</text>
        </g>
      ))}
    </g>
  );
}

export default function App() {
  return (
    <svg width={687} height={1187} viewBox="0 0 687 1187" fontFamily={FF}
      style={{ position: 'absolute', left: 0, top: 0, background: '#fff', display: 'block' }}>
      <rect x={0} y={0} width={687} height={1187} fill="#fff" />
      <PanelA />
      <PanelB />
      <PanelC />
      <PanelD />
      <PanelE />
    </svg>
  );
}
